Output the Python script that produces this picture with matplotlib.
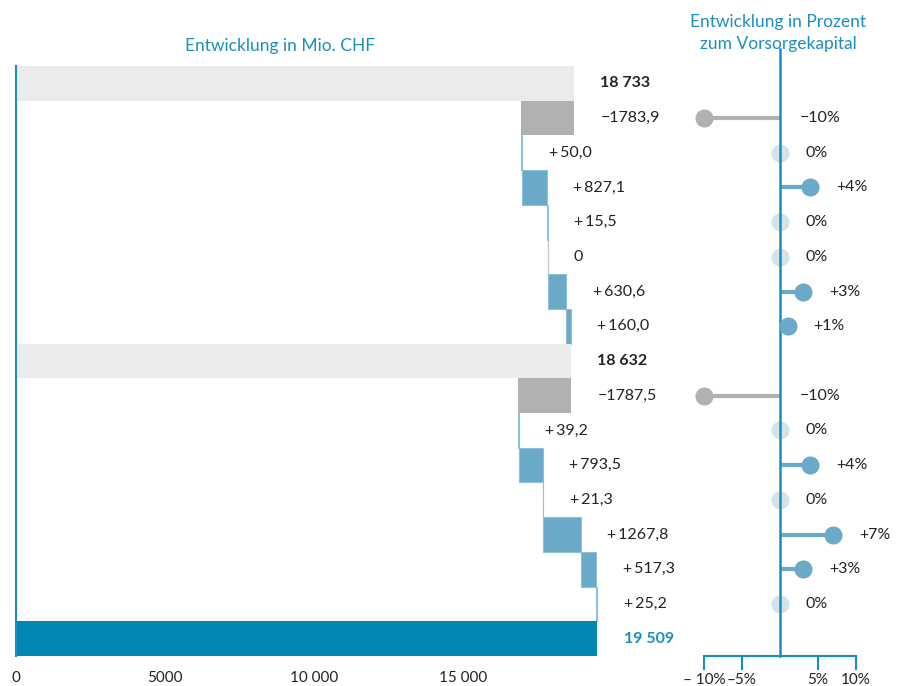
import matplotlib
matplotlib.use("Agg")
import matplotlib.pyplot as plt

plt.rcParams['font.family'] = ['Lato', 'DejaVu Sans']

# ---- data ----
row_kind = ["total", "delta", "delta", "delta", "delta", "delta", "delta", "delta",
            "total", "delta", "delta", "delta", "delta", "delta", "delta", "delta", "final"]
values_mio = [18733, -1783.9, 50.0, 827.1, 15.5, 0, 630.6, 160.0,
              18632, -1787.5, 39.2, 793.5, 21.3, 1267.8, 517.3, 25.2, 19509]
value_labels = ["18 733", "\u22121783,9", "+\u200950,0", "+\u2009827,1", "+\u200915,5", "0",
                "+\u2009630,6", "+\u2009160,0", "18 632", "\u22121787,5", "+\u200939,2",
                "+\u2009793,5", "+\u200921,3", "+\u20091267,8", "+\u2009517,3", "+\u200925,2", "19 509"]
pct_values = [None, -10, 0, 4, 0, 0, 3, 1, None, -10, 0, 4, 0, 7, 3, 0, None]
pct_labels = [None, "\u221210%", "0%", "+4%", "0%", "0%", "+3%", "+1%", None,
              "\u221210%", "0%", "+4%", "0%", "+7%", "+3%", "0%", None]
x_ticks = [0, 5000, 10000, 15000]
x_ticklabels = ["0", "5000", "10 000", "15 000"]
pct_ticks = [-10, -5, 5, 10]
pct_ticklabels = ["\u2013 10%", "\u20135%", "5%", "10%"]

title_left = "Entwicklung in Mio. CHF"
title_right = "Entwicklung in Prozent\nzum Vorsorgekapital"

# ---- colours ----
BLUE = "#1a8fbf"
C_TOTAL = "#ebebeb"
C_FINAL = "#0088b3"
C_NEG = "#b1b1b1"
C_POS = "#6aaac8"
C_POS_EDGE = "#8fc0d8"
C_ZERO = "#d4e3eb"
TXT = "#222222"

W, H = 903, 686
fig = plt.figure(figsize=(W / 100, H / 100), dpi=100)

def px_axes(x0, y0, x1, y1):
    return fig.add_axes([x0 / W, 1 - y1 / H, (x1 - x0) / W, (y1 - y0) / H])

n = len(values_mio)
top_px, bot_px = 66, 656

# ---- left waterfall ----
ax = px_axes(16, top_px, 16 + 20000 * 0.02979, bot_px)
ax.set_xlim(0, 20000)
ax.set_ylim(n - 0.5, -0.5)

running = 0.0
for i, (kind, v) in enumerate(zip(row_kind, values_mio)):
    if kind in ("total", "final"):
        color = C_TOTAL if kind == "total" else C_FINAL
        ax.barh(i, v, left=0, height=1.0, color=color, edgecolor="none")
        running = v
        right = v
        lab_color = TXT if kind == "total" else BLUE
        weight = "bold"
    else:
        if v < 0:
            left, width = running + v, -v
            ax.barh(i, width, left=left, height=1.0, color=C_NEG, edgecolor="none")
            right = running
        elif v > 0:
            left, width = running, v
            ax.barh(i, width, left=left, height=1.0, color=C_POS,
                    edgecolor=C_POS_EDGE, linewidth=0.8)
            right = running + v
        else:
            ax.barh(i, 0, left=running, height=1.0, color=C_NEG,
                    edgecolor="#c8c8c8", linewidth=1.0)
            right = running
        running += v
        lab_color = TXT
        weight = "normal"
    ax.annotate(value_labels[i], xy=(right, i), xytext=(19, 0), textcoords="offset points",
                ha="left", va="center", fontsize=11.5, color=lab_color,
                fontweight=weight, annotation_clip=False)

for s in ["top", "right", "bottom"]:
    ax.spines[s].set_visible(False)
ax.spines["left"].set_color(BLUE)
ax.spines["left"].set_linewidth(1.5)
ax.set_yticks([])
ax.set_xticks(x_ticks)
ax.set_xticklabels(x_ticklabels, fontsize=11, color=TXT)
ax.tick_params(axis="x", length=0, pad=11)
ax.text(280 / W, 1 - 46 / H, title_left, transform=fig.transFigure, ha="center",
        va="center", fontsize=12.5, color=BLUE)

# ---- right lollipop ----
ax2 = px_axes(704, top_px, 856, bot_px)
ax2.set_xlim(-10, 10)
ax2.set_ylim(n - 0.5, -0.5)
ax2.patch.set_visible(False)

for i, (p, lab) in enumerate(zip(pct_values, pct_labels)):
    if p is None:
        continue
    if p == 0:
        ax2.plot([0], [i], "o", ms=12, color=C_ZERO, zorder=1, clip_on=False)
    else:
        col = C_NEG if p < 0 else C_POS
        ax2.plot([0, p], [i, i], color=col, lw=3, solid_capstyle="butt", zorder=2, clip_on=False)
        ax2.plot([p], [i], "o", ms=12, color=col, zorder=3, clip_on=False)
    off = 20 if p < 0 else 26
    ax2.annotate(lab, xy=(max(p, 0), i), xytext=(off * 0.72, 0), textcoords="offset points",
                 ha="left", va="center", fontsize=11.5, color=TXT, annotation_clip=False)

ax2.plot([0, 0], [n - 0.5, -1.0], color=BLUE, lw=1.8, zorder=2.5, clip_on=False)

for s in ["top", "right", "left"]:
    ax2.spines[s].set_visible(False)
ax2.spines["bottom"].set_color(BLUE)
ax2.spines["bottom"].set_linewidth(1.5)
ax2.set_yticks([])
ax2.set_xticks(pct_ticks)
ax2.set_xticklabels(pct_ticklabels, fontsize=11, color=TXT)
ax2.tick_params(axis="x", length=10, width=1.5, color=BLUE, pad=2, direction="out")
ax2.text(778 / W, 1 - 33 / H, title_right, transform=fig.transFigure, ha="center",
         va="center", fontsize=12.5, color=BLUE, linespacing=1.5)

fig.savefig("out.png", dpi=100)
